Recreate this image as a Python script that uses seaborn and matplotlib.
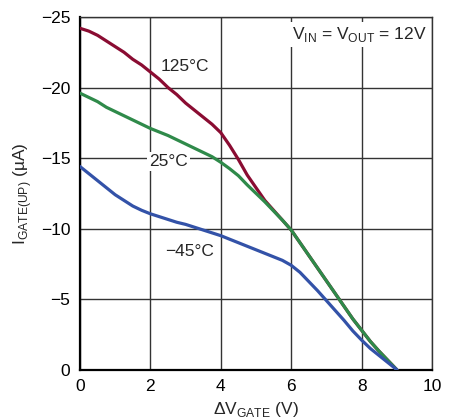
import matplotlib
matplotlib.use("Agg")
import matplotlib.pyplot as plt
import seaborn as sns
import pandas as pd
from matplotlib import font_manager

# ---- data ----
dv_gate = [0, 0.25, 0.5, 0.75, 1, 1.25, 1.5, 1.75, 2, 2.25, 2.5, 2.75, 3, 3.25, 3.5, 3.75,
           4, 4.25, 4.5, 4.75, 5, 5.25, 5.5, 5.75, 6, 6.25, 6.5, 6.75, 7, 7.25, 7.5, 7.75,
           8, 8.25, 8.5, 8.75, 9]
i_125 = [-24.2, -24.0, -23.7, -23.3, -22.9, -22.5, -22.0, -21.6, -21.1, -20.6, -20.0, -19.5,
         -18.9, -18.4, -17.9, -17.4, -16.8, -15.9, -14.9, -13.8, -12.9, -12.0, -11.3, -10.6,
         -9.9, -9.0, -8.1, -7.2, -6.3, -5.4, -4.5, -3.6, -2.8, -2.0, -1.3, -0.65, 0.0]
i_25 = [-19.6, -19.3, -19.0, -18.6, -18.3, -18.0, -17.7, -17.4, -17.1, -16.85, -16.6, -16.3,
        -16.0, -15.7, -15.4, -15.1, -14.7, -14.25, -13.75, -13.1, -12.5, -11.9, -11.25, -10.6,
        -9.9, -9.0, -8.1, -7.2, -6.3, -5.4, -4.5, -3.6, -2.8, -2.0, -1.3, -0.65, 0.0]
i_m45 = [-14.4, -13.9, -13.4, -12.9, -12.4, -12.0, -11.6, -11.3, -11.05, -10.85, -10.65, -10.45,
         -10.3, -10.1, -9.9, -9.7, -9.5, -9.25, -9.0, -8.75, -8.5, -8.25, -8.0, -7.75,
         -7.4, -6.9, -6.25, -5.6, -4.9, -4.2, -3.5, -2.75, -2.1, -1.5, -1.0, -0.5, 0.0]
series_names = ["125°C", "25°C", "−45°C"]
x_ticks = [0, 2, 4, 6, 8, 10]
y_ticks = [0, -5, -10, -15, -20, -25]

colors = {"125°C": "#8a0c32", "25°C": "#2f8a4a", "−45°C": "#3352a8"}

n = len(dv_gate)
df = pd.DataFrame({
    "dv": dv_gate * 3,
    "i": i_125 + i_25 + i_m45,
    "T": [series_names[0]] * n + [series_names[1]] * n + [series_names[2]] * n,
})

sns.set_style("white")
names = {f.name for f in font_manager.fontManager.ttflist}
fam = "Liberation Sans Narrow" if "Liberation Sans Narrow" in names else "Liberation Sans"
plt.rcParams["font.family"] = [fam, "DejaVu Sans"]
plt.rcParams["mathtext.fontset"] = "custom"
plt.rcParams["mathtext.rm"] = fam
plt.rcParams["axes.unicode_minus"] = True

fig = plt.figure(figsize=(4.56, 4.19), dpi=100)
ax = fig.add_axes([80 / 456, 1 - 369.7 / 419, 352 / 456, 352.7 / 419])

sns.lineplot(data=df, x="dv", y="i", hue="T", palette=colors, linewidth=2.3,
             legend=False, ax=ax, zorder=3)
for ln in ax.get_lines():
    ln.set_solid_joinstyle("round")
    ln.set_solid_capstyle("round")

ax.set_xlim(0, 10)
ax.set_ylim(0, -25)
ax.set_xticks(x_ticks)
ax.set_yticks(y_ticks)
ax.set_xticklabels([str(t) for t in x_ticks])
ax.set_yticklabels([str(t).replace("-", "−") for t in y_ticks])
ax.tick_params(axis="both", length=0, labelsize=12.5, pad=7, colors="black")
ax.grid(True, color="#333333", linewidth=1.0)
ax.set_axisbelow(True)
for s in ["top", "right"]:
    ax.spines[s].set_color("#333333")
    ax.spines[s].set_linewidth(1.0)
for s in ["left", "bottom"]:
    ax.spines[s].set_color("black")
    ax.spines[s].set_linewidth(1.6)

ax.set_xlabel(r"ΔV$_{\mathregular{GATE}}$ (V)", fontsize=12.5, labelpad=4)
ax.set_ylabel(r"I$_{\mathregular{GATE(UP)}}$ (µA)", fontsize=12.5, labelpad=5)

box = dict(facecolor="white", edgecolor="none", pad=1.5)
ax.text(2.98, -21.5, "125°C", fontsize=12.5, ha="center", va="center", zorder=4)
ax.text(2.51, -14.75, "25°C", fontsize=12.5, ha="center", va="center", bbox=box, zorder=4)
ax.text(3.1, -8.36, "−45°C", fontsize=12.5, ha="center", va="center", zorder=4)
ax.text(7.95, -23.75, r"V$_{\mathregular{IN}}$ = V$_{\mathregular{OUT}}$ = 12V", fontsize=12.5,
        ha="center", va="center", bbox=dict(facecolor="white", edgecolor="none", pad=2),
        zorder=4)

fig.savefig("out.png", dpi=100)
